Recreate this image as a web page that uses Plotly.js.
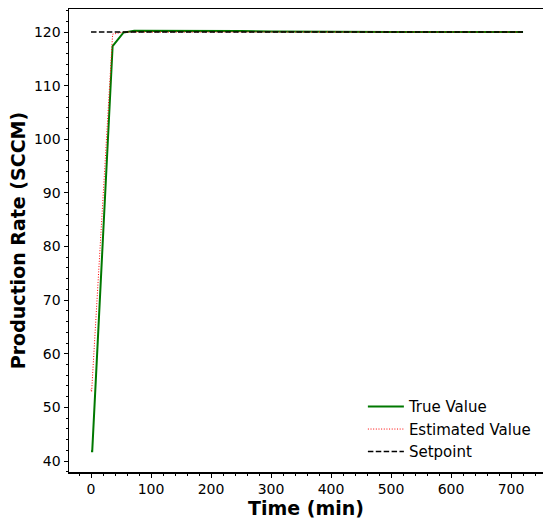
<!DOCTYPE html>
<html>
<head>
<meta charset="utf-8">
<script src="https://cdn.plot.ly/plotly-3.0.1.min.js"></script>
<style>html,body{margin:0;padding:0;background:#fff;}#chart{width:543px;height:520px;}</style>
</head>
<body>
<div id="chart"></div>
<script>
// Time points (min)
const timeTrue = [0, 2, 36, 54, 72, 100, 150, 200, 250, 300, 350, 400, 450, 500, 550, 600, 650, 720];
const trueValue = [41.8, 41.8, 117.4, 119.9, 120.25, 120.25, 120.25, 120.2, 120.2, 120.1, 120.05, 120.05, 120.05, 120.0, 120.0, 120.0, 120.0, 120.0];
const timeEst = [0, 1, 36, 54, 72, 100, 150, 200, 250, 300, 350, 400, 450, 500, 550, 600, 650, 720];
const estValue = [53.3, 52.9, 119.6, 120.0, 120.0, 120.0, 120.0, 120.0, 120.0, 120.0, 120.0, 120.0, 120.0, 120.0, 120.0, 120.0, 120.0, 120.0];
const timeSet = [0, 720];
const setpoint = [120, 120];

const font = "DejaVu Sans, sans-serif";
const traces = [
  {x: timeTrue, y: trueValue, type: 'scatter', mode: 'lines', name: 'True Value',
   line: {color: '#007800', width: 2}},
  {x: timeEst, y: estValue, type: 'scatter', mode: 'lines', name: 'Estimated Value',
   line: {color: '#ff0000', width: 1, dash: '1px,1.65px'}},
  {x: timeSet, y: setpoint, type: 'scatter', mode: 'lines', name: 'Setpoint',
   line: {color: '#000000', width: 1.5, dash: '5.5px,2.4px'}}
];
const layout = {
  width: 543, height: 520,
  margin: {l: 69, r: 0, t: 9, b: 48},
  paper_bgcolor: '#fff', plot_bgcolor: '#fff',
  font: {family: font, size: 14, color: '#000'},
  showlegend: true,
  legend: {x: 0.62, y: 0.008, xanchor: 'left', yanchor: 'bottom', bgcolor: 'rgba(0,0,0,0)',
           itemwidth: 36,
           font: {family: font, size: 15, color: '#000'}},
  xaxis: {
    range: [-36.7, 753.3], showgrid: false, zeroline: false,
    showline: true, linecolor: '#000', linewidth: 1.5, mirror: true,
    ticks: 'outside', ticklen: 4, tickwidth: 1, tickcolor: '#000',
    tick0: 0, dtick: 100,
    minor: {dtick: 20, ticks: 'outside', ticklen: 2, tickcolor: '#000', showgrid: false},
    tickfont: {family: font, size: 14, color: '#000'},
    title: {text: 'Time (min)', font: {family: font, size: 19, color: '#000', weight: 'bold'}, standoff: 4}
  },
  yaxis: {
    range: [37.95, 124.3], showgrid: false, zeroline: false,
    showline: true, linecolor: '#000', linewidth: 1.5, mirror: true,
    ticks: 'outside', ticklen: 4, tickwidth: 1, tickcolor: '#000',
    tick0: 40, dtick: 10,
    minor: {dtick: 2, ticks: 'outside', ticklen: 2, tickcolor: '#000', showgrid: false},
    tickfont: {family: font, size: 14, color: '#000'},
    title: {text: 'Production Rate (SCCM)', font: {family: font, size: 19, color: '#000', weight: 'bold'}, standoff: 3}
  }
};
Plotly.newPlot('chart', traces, layout, {displayModeBar: false, staticPlot: true});
</script>
</body>
</html>
